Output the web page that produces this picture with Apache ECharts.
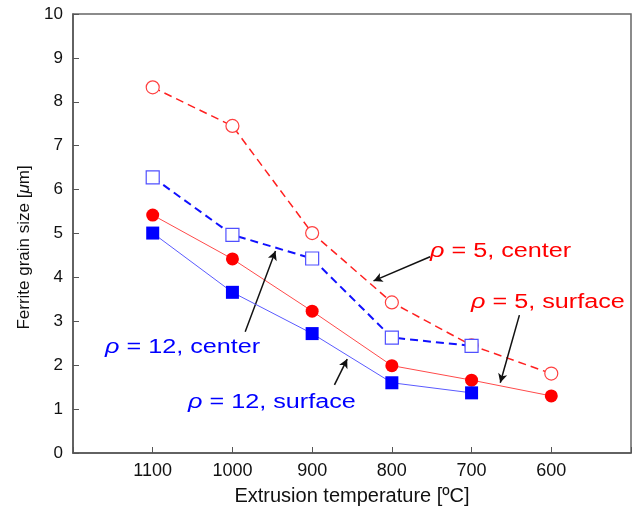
<!DOCTYPE html>
<html lang="en">
<head>
    <meta charset="UTF-8">
    <title>Ferrite grain size</title>
    <style>
        html, body { margin: 0; padding: 0; background: #fff; }
    </style>
</head>
<body>
    <div id="main" style="width: 643px;height:511px;"></div>
    <script src="https://cdn.jsdelivr.net/npm/echarts@6/dist/echarts.min.js"></script>
    <script>
    // extrusion temperature (ºC) and grain sizes (μm)
    var temps = [1100, 1000, 900, 800, 700, 600];
    var rho5Center = [8.33, 7.45, 5.01, 3.43, 2.45, 1.81];
    var rho12Center = [6.28, 4.97, 4.43, 2.63, 2.44, null];
    var rho5Surface = [5.42, 4.42, 3.23, 1.99, 1.66, 1.30];
    var rho12Surface = [5.01, 3.66, 2.72, 1.60, 1.37, null];

    // arrows: [fromX, fromY, toX, toY] in data units
    var arrows = [
        [752, 4.47, 823, 3.92],
        [640, 3.14, 664, 1.60],
        [984, 2.76, 946, 4.60],
        [872, 1.55, 856, 2.14]
    ];

    function pairs(ys) {
        var out = [];
        for (var i = 0; i < temps.length; i++) {
            if (ys[i] != null) out.push([temps[i], ys[i]]);
        }
        return out;
    }

    var myChart = echarts.init(document.getElementById('main'));
    var font = 'Arial, "Liberation Sans", sans-serif';

    // the source figure is a bit wider than tall, so the labels get stretched
    function note(txt, x, y, col) {
        return {
            type: 'text', x: x, y: y, scaleX: 1.26,
            style: {
                text: txt, fill: col, font: '20px ' + font, verticalAlign: 'middle',
                rich: { i: { fontStyle: 'italic', fontSize: 20, fontFamily: font } }
            }
        };
    }

    var option = {
        animation: false,
        grid: {
            left: 73, right: 12, top: 14, bottom: 58,
            show: true,
            borderColor: '#666',
            borderWidth: 1.5
        },
        xAxis: {
            type: 'value',
            min: 500, max: 1200, interval: 100,
            inverse: true,
            name: 'Extrusion temperature [ºC]',
            nameLocation: 'middle',
            nameGap: 33,
            nameTextStyle: { fontFamily: font, fontSize: 20, color: '#111' },
            axisLine: { lineStyle: { color: '#555', width: 1.5 } },
            axisTick: { inside: true, length: 6, lineStyle: { color: '#555' } },
            axisLabel: {
                margin: 9, fontFamily: font, fontSize: 18, color: '#111',
                formatter: function (v) { return (v === 500 || v === 1200) ? '' : v; }
            },
            splitLine: { show: false }
        },
        yAxis: {
            type: 'value',
            min: 0, max: 10, interval: 1,
            name: 'Ferrite grain size [{i|μ}m]',
            nameLocation: 'middle',
            nameGap: 36,
            nameTextStyle: {
                fontFamily: font, fontSize: 17, color: '#111',
                padding: [0, 28, 0, 0],
                rich: { i: { fontStyle: 'italic', fontFamily: font, fontSize: 17, color: '#111' } }
            },
            axisLine: { lineStyle: { color: '#555', width: 1.5 } },
            axisTick: { inside: true, length: 6, lineStyle: { color: '#555' } },
            axisLabel: { margin: 10, fontFamily: font, fontSize: 17, color: '#111' },
            splitLine: { show: false }
        },
        series: [
            {
                name: 'rho5 center', type: 'line',
                data: pairs(rho5Center),
                symbol: 'circle', symbolSize: 13,
                lineStyle: { color: '#ff2020', width: 1.5, type: [8, 5] },
                itemStyle: { color: '#fff', borderColor: '#ff4040', borderWidth: 1.2 },
                z: 2,
                markLine: {
                    silent: true,
                    symbol: ['none', 'arrow'],
                    symbolSize: [7, 9],
                    label: { show: false },
                    lineStyle: { color: '#111', width: 1.5, type: 'solid' },
                    data: arrows.map(function (a) {
                        return [{ coord: [a[0], a[1]] }, { coord: [a[2], a[3]] }];
                    })
                }
            },
            {
                name: 'rho12 center', type: 'line',
                data: pairs(rho12Center),
                symbol: 'rect', symbolSize: 13,
                lineStyle: { color: '#1010ff', width: 2, type: [8, 5] },
                itemStyle: { color: '#fff', borderColor: '#5050ff', borderWidth: 1.2 },
                z: 3
            },
            {
                name: 'rho5 surface', type: 'line',
                data: pairs(rho5Surface),
                symbol: 'circle', symbolSize: 13,
                lineStyle: { color: '#ff4a4a', width: 1 },
                itemStyle: { color: '#ff0000' },
                z: 4
            },
            {
                name: 'rho12 surface', type: 'line',
                data: pairs(rho12Surface),
                symbol: 'rect', symbolSize: 13,
                lineStyle: { color: '#5a5aff', width: 1 },
                itemStyle: { color: '#0000ff' },
                z: 5
            }
        ],
        graphic: [
            note('{i|ρ} = 5, center', 430, 251, '#ff0000'),
            note('{i|ρ} = 5, surface', 471, 302, '#ff0000'),
            note('{i|ρ} = 12, center', 105, 347, '#0000ff'),
            note('{i|ρ} = 12, surface', 188, 402, '#0000ff')
        ]
    };
    myChart.setOption(option);
    </script>
</body>
</html>
